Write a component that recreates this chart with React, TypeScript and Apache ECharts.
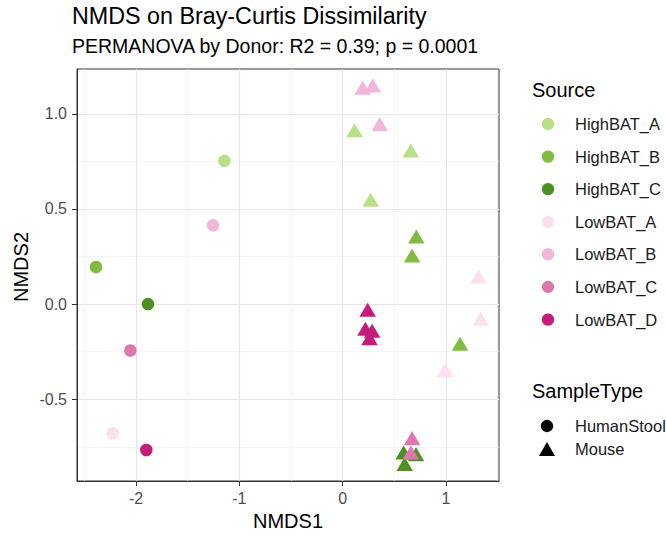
import React, { useEffect, useRef } from "react";
import * as echarts from "echarts";

const SOURCES = ["HighBAT_A", "HighBAT_B", "HighBAT_C", "LowBAT_A", "LowBAT_B", "LowBAT_C", "LowBAT_D"];
const COLORS = ["#b8e186", "#7fbc41", "#4d9221", "#fde0ef", "#f1b6da", "#de77ae", "#c51b7d"];
const SAMPLE_TYPES = ["HumanStool", "Mouse"];

// NMDS1, NMDS2 per source, HumanStool samples (circles)
const highBatA_stool = [[-1.145, 0.753]];
const highBatB_stool = [[-2.387, 0.195]];
const highBatC_stool = [[-1.884, 0.0]];
const lowBatA_stool = [[-2.226, -0.679]];
const lowBatB_stool = [[-1.255, 0.414]];
const lowBatC_stool = [[-2.055, -0.244]];
const lowBatD_stool = [[-1.9, -0.767]];

// Mouse samples (triangles)
const highBatA_mouse = [[0.116, 0.914], [0.659, 0.807], [0.271, 0.549]];
const highBatB_mouse = [[0.713, 0.356], [0.672, 0.256], [1.136, -0.209]];
const highBatC_mouse = [[0.59, -0.78], [0.71, -0.79], [0.6, -0.84]];
const lowBatA_mouse = [[1.314, 0.145], [1.337, -0.077], [0.991, -0.346]];
const lowBatB_mouse = [[0.194, 1.137], [0.291, 1.149], [0.359, 0.947]];
const lowBatC_mouse = [[0.672, -0.705], [0.66, -0.78]];
const lowBatD_mouse = [[0.242, -0.03], [0.22, -0.13], [0.285, -0.14], [0.26, -0.18]];

const STOOL = [highBatA_stool, highBatB_stool, highBatC_stool, lowBatA_stool, lowBatB_stool, lowBatC_stool, lowBatD_stool];
const MOUSE = [highBatA_mouse, highBatB_mouse, highBatC_mouse, lowBatA_mouse, lowBatB_mouse, lowBatC_mouse, lowBatD_mouse];

const X_TICKS = [-2, -1, 0, 1];
const X_MINOR = [-2.5, -1.5, -0.5, 0.5, 1.5];
const Y_TICKS = [-0.5, 0, 0.5, 1.0];
const Y_MINOR = [-0.75, -0.25, 0.25, 0.75];
const X_RANGE = [-2.571, 1.513];
const Y_RANGE = [-0.93, 1.236];

const TITLE = "NMDS on Bray-Curtis Dissimilarity";
const SUBTITLE = "PERMANOVA by Donor: R2 = 0.39; p = 0.0001";

const FONT = "'Liberation Sans', Arial, Helvetica, sans-serif";

export default function App() {
  const ref = useRef<HTMLDivElement>(null);
  useEffect(() => {
    document.body.style.margin = "0";
    const chart = echarts.init(ref.current!, null, { renderer: "svg" });
    const GRID = { left: 77, top: 69, width: 422, height: 412 };
    const majorLine = { show: true, lineStyle: { color: "#e6e6e6", width: 1.2 } };
    const minorLine = { show: true, lineStyle: { color: "#f1f1f1", width: 0.7 } };
    const tickLabel = { color: "#4d4d4d", fontSize: 16, fontFamily: FONT };

    const graphic: any[] = [
      { type: "text", x: 72, y: 16, style: { text: TITLE, fontSize: 23.3, fontFamily: FONT, fill: "#000", align: "left", verticalAlign: "middle" } },
      { type: "text", x: 72, y: 46, style: { text: SUBTITLE, fontSize: 19.5, fontFamily: FONT, fill: "#000", align: "left", verticalAlign: "middle" } },
      { type: "text", x: 288, y: 521, style: { text: "NMDS1", fontSize: 20, fontFamily: FONT, fill: "#000", align: "center", verticalAlign: "middle" } },
      { type: "text", x: 21, y: 267, rotation: Math.PI / 2, style: { text: "NMDS2", fontSize: 20, fontFamily: FONT, fill: "#000", align: "center", verticalAlign: "middle" } },
      { type: "text", x: 532, y: 90, style: { text: "Source", fontSize: 20, fontFamily: FONT, fill: "#000", align: "left", verticalAlign: "middle" } },
      { type: "text", x: 532, y: 391, style: { text: "SampleType", fontSize: 20, fontFamily: FONT, fill: "#000", align: "left", verticalAlign: "middle" } },
    ];
    SOURCES.forEach((name, i) => {
      const cy = 124 + 32.6 * i;
      graphic.push({ type: "circle", shape: { cx: 548, cy, r: 6.2 }, style: { fill: COLORS[i] } });
      graphic.push({ type: "text", x: 575, y: cy, style: { text: name, fontSize: 16.5, fontFamily: FONT, fill: "#1a1a1a", align: "left", verticalAlign: "middle" } });
    });
    SAMPLE_TYPES.forEach((name, i) => {
      const cy = 426 + 23 * i;
      if (i === 0) {
        graphic.push({ type: "circle", shape: { cx: 547, cy, r: 6.2 }, style: { fill: "#000" } });
      } else {
        graphic.push({ type: "polygon", shape: { points: [[539, cy + 7], [555, cy + 7], [547, cy - 7]] }, style: { fill: "#000" } });
      }
      graphic.push({ type: "text", x: 575, y: cy, style: { text: name, fontSize: 16.5, fontFamily: FONT, fill: "#1a1a1a", align: "left", verticalAlign: "middle" } });
    });

    const series = SOURCES.map((name, i) => ({
      type: "scatter",
      name,
      xAxisIndex: 0,
      yAxisIndex: 0,
      silent: true,
      itemStyle: { color: COLORS[i], opacity: 1 },
      data: [
        ...STOOL[i].map((p) => ({ value: p, symbol: "circle", symbolSize: 12.5 })),
        ...MOUSE[i].map((p) => ({ value: p, symbol: "triangle", symbolSize: [16.5, 14] })),
      ],
    }));

    chart.setOption({
      animation: false,
      backgroundColor: "#fff",
      grid: { ...GRID, show: true, backgroundColor: "#fff", borderColor: "#333", borderWidth: 1 },
      graphic,
      xAxis: [
        {
          type: "value", min: X_RANGE[0], max: X_RANGE[1], position: "bottom",
          axisLine: { show: true, onZero: false, lineStyle: { color: "#333", width: 1 } },
          axisTick: { show: true, length: 5, customValues: X_TICKS, lineStyle: { color: "#333", width: 1 } },
          axisLabel: { ...tickLabel, margin: 9, customValues: X_TICKS, formatter: (v: number) => String(Math.round(v)) },
          splitLine: majorLine,
        },
        {
          type: "value", min: X_RANGE[0], max: X_RANGE[1], position: "bottom",
          axisLine: { show: false }, axisTick: { show: false, customValues: X_MINOR },
          axisLabel: { show: false, customValues: X_MINOR }, splitLine: minorLine,
        },
      ],
      yAxis: [
        {
          type: "value", min: Y_RANGE[0], max: Y_RANGE[1], position: "left",
          axisLine: { show: true, onZero: false, lineStyle: { color: "#333", width: 1 } },
          axisTick: { show: true, length: 5, customValues: Y_TICKS, lineStyle: { color: "#333", width: 1 } },
          axisLabel: { ...tickLabel, margin: 10, customValues: Y_TICKS, formatter: (v: number) => v.toFixed(1) },
          splitLine: majorLine,
        },
        {
          type: "value", min: Y_RANGE[0], max: Y_RANGE[1], position: "left",
          axisLine: { show: false }, axisTick: { show: false, customValues: Y_MINOR },
          axisLabel: { show: false, customValues: Y_MINOR }, splitLine: minorLine,
        },
      ],
      series,
    });
    return () => chart.dispose();
  }, []);
  return <div ref={ref} style={{ position: "fixed", left: 0, top: 0, width: 666, height: 535 }} />;
}
